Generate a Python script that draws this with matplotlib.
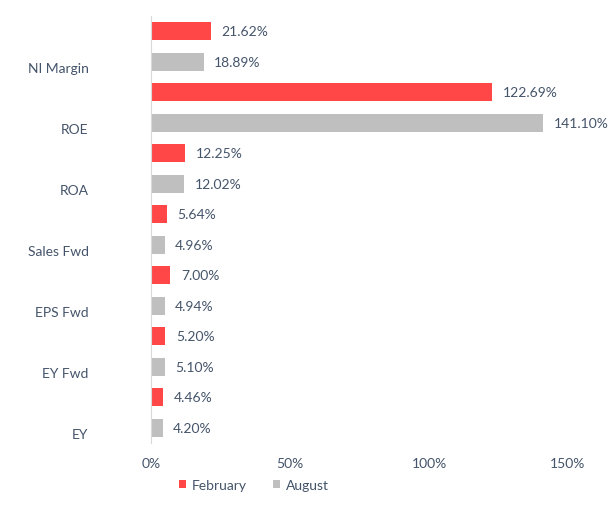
import matplotlib
matplotlib.use("Agg")
import matplotlib.pyplot as plt
import numpy as np

categories = ["NI Margin", "ROE", "ROA", "Sales Fwd", "EPS Fwd", "EY Fwd", "EY"]
february = [21.62, 122.69, 12.25, 5.64, 7.00, 5.20, 4.46]
august = [18.89, 141.10, 12.02, 4.96, 4.94, 5.10, 4.20]
xticks = [0, 50, 100, 150]

RED = "#FF4747"
GRAY = "#BFBFBF"
TXT = "#44546A"

plt.rcParams["font.family"] = ["Lato", "DejaVu Sans"]

W, H = 612, 506
fig = plt.figure(figsize=(W / 100, H / 100), dpi=100)
ax = fig.add_axes([151 / W, 1 - 444 / H, (568 - 151) / W, (444 - 17) / H])

n = len(categories)
pos = np.arange(n)[::-1].astype(float)
bh = 0.295
ax.barh(pos + 0.25, february, height=bh, color=RED, label="February")
ax.barh(pos - 0.25, august, height=bh, color=GRAY, label="August")

for p, f, a in zip(pos, february, august):
    ax.annotate(f"{f:.2f}%", (f, p + 0.25), xytext=(7.5, 0), textcoords="offset points",
                va="center", ha="left", fontsize=10, color=TXT)
    ax.annotate(f"{a:.2f}%", (a, p - 0.25), xytext=(7.5, 0), textcoords="offset points",
                va="center", ha="left", fontsize=10, color=TXT)

ax.set_xlim(0, 150)
ax.set_ylim(-0.5, n - 0.5)
ax.set_xticks(xticks)
ax.set_xticklabels([f"{t}%" for t in xticks])
ax.set_yticks(pos - 0.33)
ax.set_yticklabels(categories)
ax.tick_params(axis="both", length=0, labelsize=10, labelcolor=TXT)
ax.tick_params(axis="x", pad=10)
ax.tick_params(axis="y", pad=45)
for s in ["top", "right", "bottom"]:
    ax.spines[s].set_visible(False)
ax.spines["left"].set_color("#D9D9D9")

leg = fig.legend(loc="center", bbox_to_anchor=(254 / W, 1 - 486 / H), ncol=2,
                 frameon=False, fontsize=10, handlelength=0.5, handleheight=0.5,
                 columnspacing=1.9, handletextpad=0.4)
for t in leg.get_texts():
    t.set_color(TXT)

fig.savefig("out.png", dpi=100)
